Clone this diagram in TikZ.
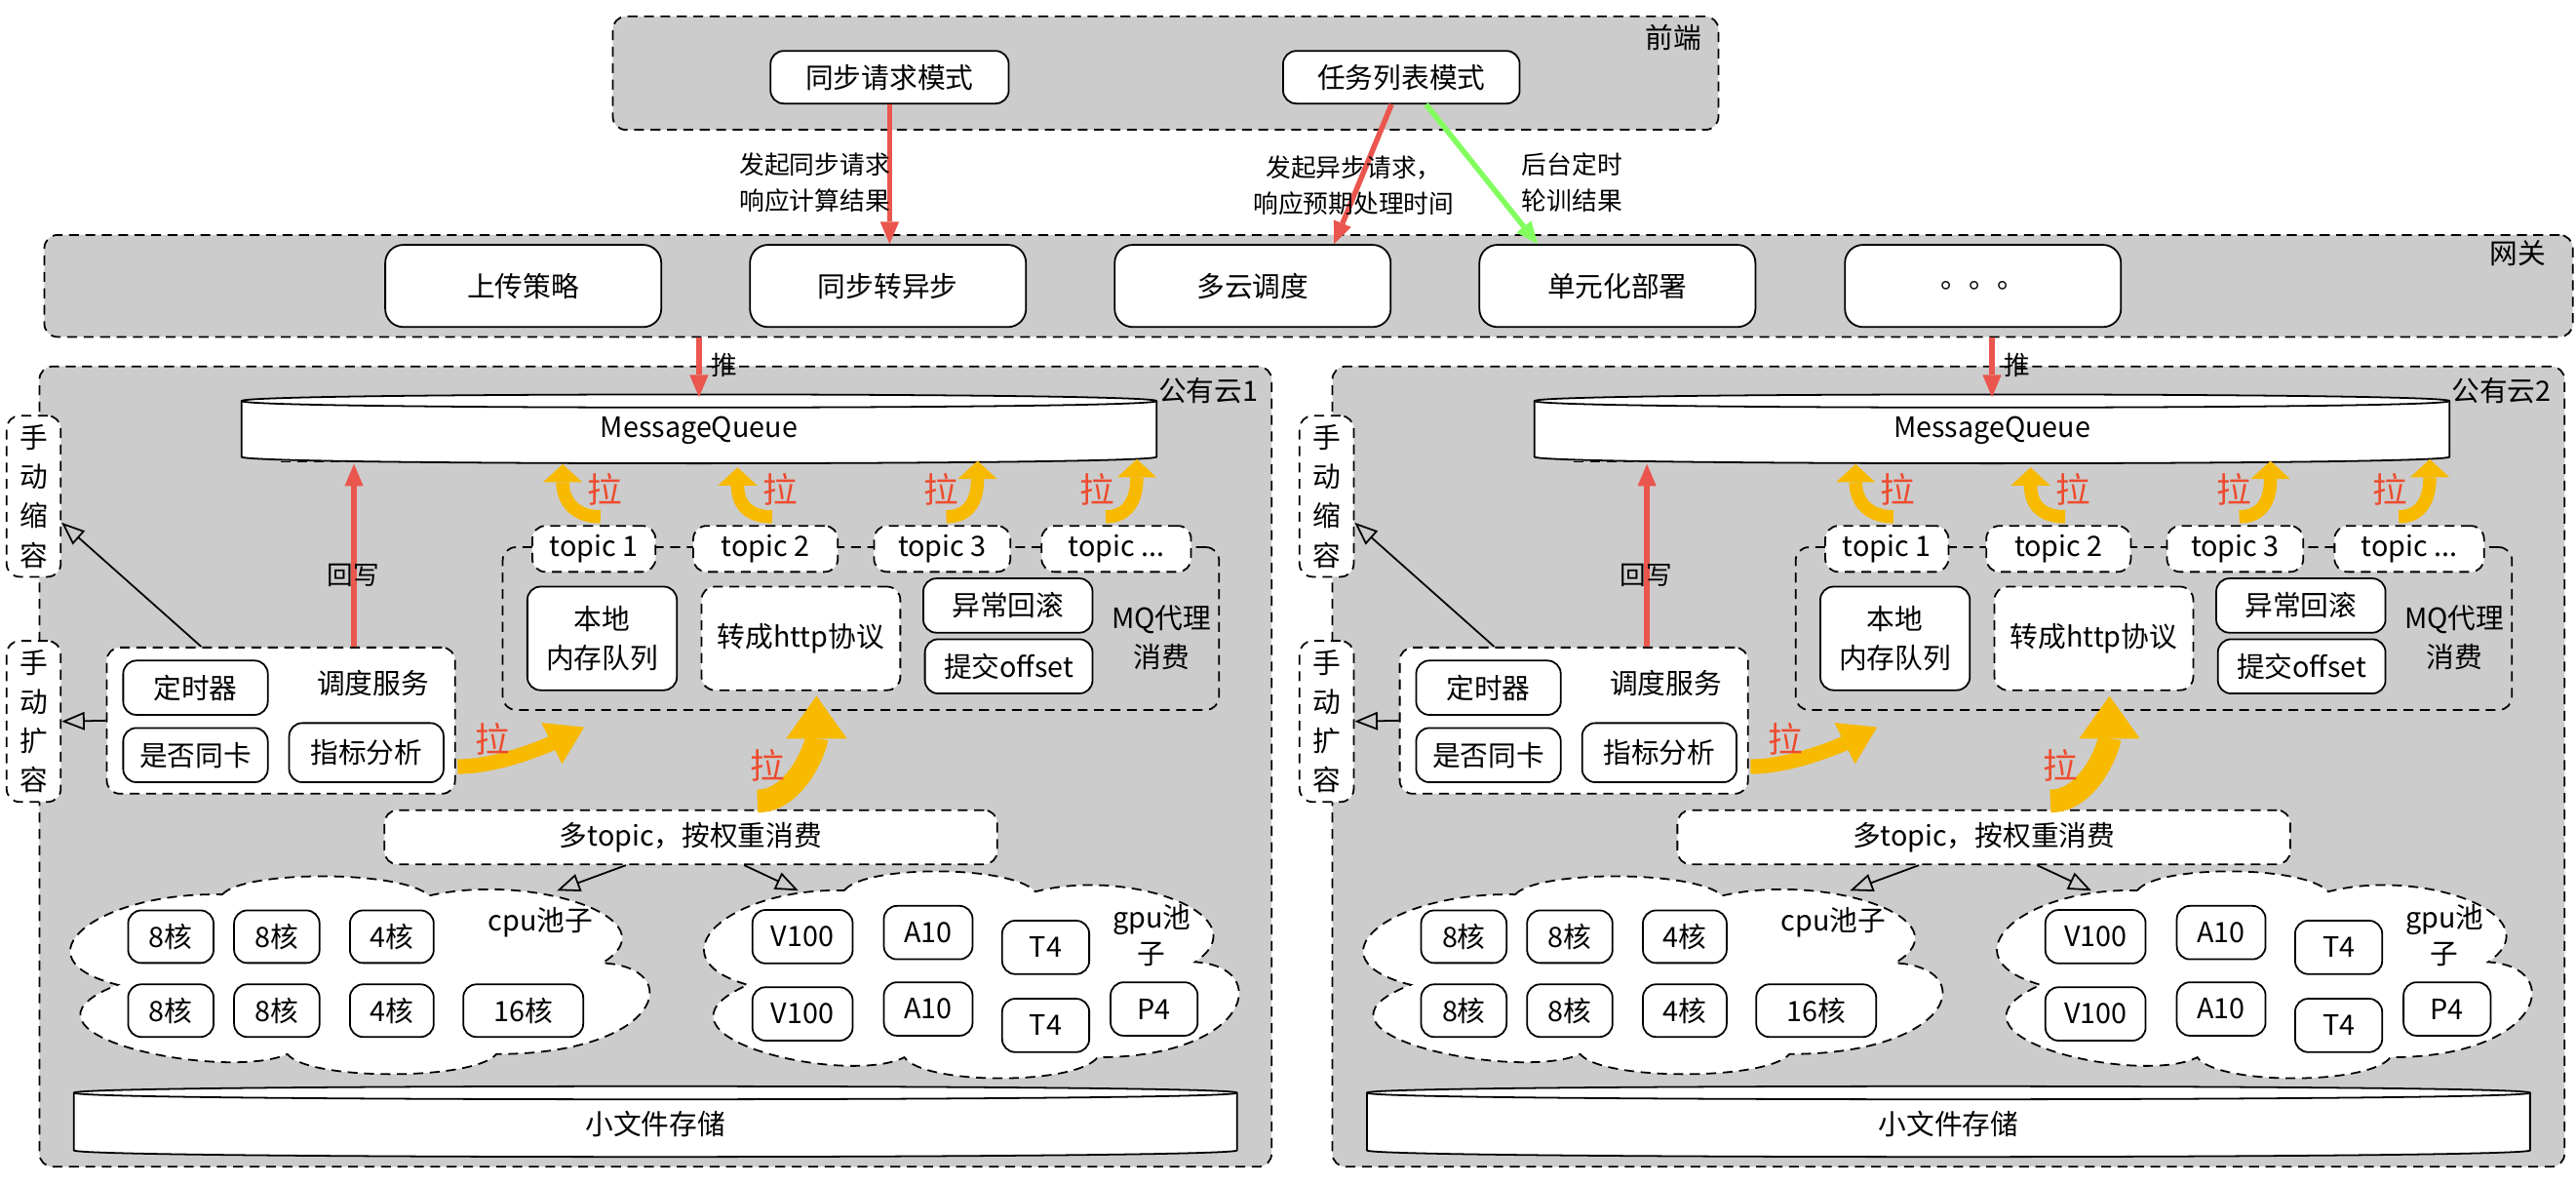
\documentclass[tikz,border=0pt]{standalone}
\usepackage{fontspec}
\setmainfont{Noto Sans CJK SC}
\usetikzlibrary{arrows.meta,positioning,calc}

\definecolor{panel}{HTML}{CCCCCC}
\definecolor{pushred}{HTML}{EA564D}
\definecolor{pullred}{HTML}{EE4B2E}
\definecolor{pullyel}{HTML}{F7BA00}
\definecolor{pollgreen}{HTML}{82FF5E}

\tikzset{
  zone/.style={draw, fill=panel, dash pattern=on 1.2mm off 0.8mm, rounded corners=1.6mm, line width=0.6pt, inner sep=0pt},
  unit/.style={draw, fill=white, rounded corners=1.6mm, line width=0.6pt, align=center, inner sep=0pt},
  dunit/.style={unit, dash pattern=on 1.2mm off 0.8mm},
  sz/.style 2 args={minimum width=#1mm, minimum height=#2mm},
  drum/.style={draw, fill=white, line width=0.6pt},
  pool/.style={draw, fill=white, dash pattern=on 1.2mm off 0.8mm, line width=0.6pt},
  push/.style={draw=pushred, line width=0.65mm, -{Triangle[length=2.7mm, width=2.3mm, line width=0pt]}},
  poll/.style={draw=pollgreen, line width=0.65mm, -{Triangle[length=2.7mm, width=2.3mm, line width=0pt]}},
  hollow/.style={line width=0.6pt, -{Triangle[open, length=2.8mm, width=2.2mm]}},
  pull/.style={draw=pullyel, line width=1.6mm, -{Triangle[length=2.2mm, width=4.8mm, line width=0pt]}},
  midpull/.style={draw=pullyel, line width=1.8mm, -{Triangle[length=4.4mm, width=5.6mm, line width=0pt]}},
  bigpull/.style={draw=pullyel, line width=2.8mm, -{Triangle[length=5.2mm, width=7.4mm, line width=0pt]}},
  pulltxt/.style={text=pullred, font=\fontsize{12}{12}\selectfont},
  note/.style={align=center, font=\fontsize{8.7}{12.5}\selectfont},
  puffy/.pic={
    \path[pool] (0.274,0.094) .. controls (0.31,-0.03) and (0.58,-0.03) .. (0.624,0.10)
      .. controls (0.80,-0.02) and (1.04,0.22) .. (0.917,0.44)
      .. controls (1.06,0.46) and (1.02,0.90) .. (0.738,0.90)
      .. controls (0.70,1.035) and (0.42,1.035) .. (0.384,0.90)
      .. controls (0.28,1.04) and (-0.12,0.80) .. (0.097,0.55)
      .. controls (-0.08,0.42) and (0.06,0.08) .. (0.274,0.094) -- cycle;
  }
}

\begin{document}
\begin{tikzpicture}[x=0.2mm, y=-0.2mm, font=\fontsize{9.7}{13.6}\selectfont]
\useasboundingbox (0,0) rectangle (1568,720);

% front end
\node[zone, sz={134.6}{13.8}] (fe) at (709.5,44.5) {};
\node[anchor=east] at (1042,23) {前端};
\node[unit, sz={29}{6.4}] (sync) at (541.5,47) {同步请求模式};
\node[unit, sz={28.8}{6.4}] (task) at (853,47) {任务列表模式};

% gateway
\node[zone, sz={307.8}{12.4}] (gw) at (796.5,174) {};
\node[anchor=east] at (1556,154) {网关};
\foreach \i/\x/\txt in {1/318.5/上传策略, 2/540.5/同步转异步, 3/762.5/多云调度, 4/984.5/单元化部署, 5/1207/。。。}
  \node[unit, rounded corners=2.2mm, sz={33.6}{10}] (gb\i) at (\x,174) {\txt};

\draw[push] (sync.south) -- (sync.south |- gb2.north);
\draw[push] ([xshift=-1.2mm]task.south) -- ([xshift=9.9mm]gb3.north);
\draw[poll] ([xshift=3mm]task.south) -- ([xshift=-9.7mm]gb4.north);
\node[note] at (496,111) {发起同步请求\\响应计算结果};
\node[note] at (824,113) {发起异步请求，\\响应预期处理时间};
\node[note] at (957,111) {后台定时\\轮训结果};

% two public clouds
\foreach \k/\dx in {1/0mm, 2/157.4mm}{
\begin{scope}[xshift=\dx]
  \node[zone, sz={150}{97.4}] (pc\k) at (399,466.5) {};
  \node[anchor=east] at (772,238) {公有云\k};

  % message queue
  \draw[drum] (147,244) .. controls (147,238.7) and (704,238.7) .. (704,244) -- (704,278)
    .. controls (704,283.3) and (147,283.3) .. (147,278) -- cycle;
  \draw[line width=0.6pt] (147,244) .. controls (147,249.3) and (704,249.3) .. (704,244);
  \draw[line width=0.6pt, dash pattern=on 1.2mm off 0.8mm] (171,281) -- (263,281);
  \node[sz={111.4}{8}] (mq\k) at (425.5,262) {MessageQueue};
  \draw[push] (mq\k.north |- gw.south) -- (mq\k.north);
  \node[font=\fontsize{9}{9}\selectfont] at (441,222) {推};

  % MQ proxy
  \node[dunit, fill=none, sz={87.2}{19.8}] (mqp\k) at (524,382.5) {};
  \node[align=center] at (707,388) {MQ代理\\消费};
  \node[dunit, sz={15}{5.6}] (t1\k) at (361.5,334) {topic 1};
  \node[dunit, sz={17.6}{5.6}] (t2\k) at (466,334) {topic 2};
  \node[dunit, sz={16.6}{5.6}] (t3\k) at (573.5,334) {topic 3};
  \node[dunit, sz={18.2}{5.6}] (t4\k) at (679.5,334) {topic ...};
  \node[unit, sz={18.2}{12.6}] (loc\k) at (366.5,388.5) {本地\\内存队列};
  \node[dunit, sz={24.2}{12.6}] (http\k) at (487.5,388.5) {转成http协议};
  \node[unit, sz={20.6}{6.6}] (rb\k) at (613.5,368.5) {异常回滚};
  \node[unit, sz={20.4}{6.6}] (off\k) at (614,405.5) {提交offset};

  \draw[pull] ([shift={(4,-5)}]t1\k.north) .. controls +(-16,0) and +(0,22) .. ++(-23,-32);
  \draw[pull] ([shift={(4,-5)}]t2\k.north) .. controls +(-15,0) and +(0,22) .. ++(-21,-30);
  \draw[pull] ([shift={(2.5,-5)}]t3\k.north) .. controls +(14,0) and +(0,24) .. ++(19,-34);
  \draw[pull] ([shift={(-6.5,-5)}]t4\k.north) .. controls +(14,0) and +(0,24) .. ++(19,-35);
  \foreach \lx in {368,475,573,668}
    \node[pulltxt] at (\lx,298) {拉};

  % scheduler
  \node[dunit, sz={42.4}{17.8}] (sch\k) at (171,438.5) {};
  \node at (227,416) {调度服务};
  \node[unit, sz={17.6}{6.6}] (tmr\k) at (119,418.5) {定时器};
  \node[unit, sz={17.6}{6.6}] (card\k) at (119,459.5) {是否同卡};
  \node[unit, sz={18.8}{7.2}] (met\k) at (223,458) {指标分析};

  \node[dunit, sz={6.6}{19.6}] (shr\k) at (20.5,302) {手\\动\\缩\\容};
  \node[dunit, sz={6.6}{19.6}] (exp\k) at (20.5,439) {手\\动\\扩\\容};
  \draw[hollow] ([xshift=11.6mm]sch\k.north west) -- ([yshift=-3.2mm]shr\k.east);
  \draw[hollow] (sch\k.west) -- (exp\k.east);

  \path ([xshift=30.2mm]sch\k.north west) coordinate (wb\k);
  \draw[push] (wb\k) -- (wb\k |- mq\k.south);
  \node[font=\fontsize{9}{9}\selectfont] at (215,350) {回写};

  \draw[midpull] ([shift={(1,28)}]sch\k.east) .. controls +(28,0) and +(-16,8) .. ++(77,-24);
  \node[pulltxt] at (300,450) {拉};

  % weighted consumer
  \node[dunit, sz={74.6}{6.6}] (mt\k) at (420.5,509.5) {多topic，按权重消费};
  \draw[bigpull] ([shift={(40.5,-5)}]mt\k.north) .. controls +(24,0) and +(0,30) .. ++(36,-64);
  \node[pulltxt] at (467,466) {拉};

  % pools
  \pic[xscale=359.6, yscale=120.5] at (36.8,533) {puffy};
  \pic[xscale=332, yscale=126] at (423,530) {puffy};
  \foreach \n/\x/\y/\w/\txt in {a/104/570/10.4/8核, b/168.5/570/10.4/8核, c/238.5/570/10.2/4核,
      d/104/615/10.4/8核, e/168.5/615/10.4/8核, f/238.5/615/10.2/4核, g/318.5/615/14.6/16核}
    \node[unit, sz={\w}{6.4}] (cpu\n\k) at (\x,\y) {\txt};
  \foreach \n/\x/\y/\w/\txt in {a/488.5/570/12.2/V100, b/488.5/617/12.2/V100, c/565/567.5/10.8/A10,
      d/565/614/10.8/A10, e/636.5/576.5/10.6/T4, f/636.5/624/10.6/T4, g/702.5/614/10.6/P4}
    \node[unit, sz={\w}{6.5}] (gpu\n\k) at (\x,\y) {\txt};
  \node at (329,561) {cpu池子};
  \node[align=center, font=\fontsize{9.7}{12.5}\selectfont] at (701,569) {gpu池\\子};

  \coordinate (cpuin\k) at (339,542);
  \coordinate (gpuin\k) at (486,542);
  \draw[hollow] ([xshift=-7.9mm]mt\k.south) -- (cpuin\k);
  \draw[hollow] ([xshift=6.5mm]mt\k.south) -- (gpuin\k);

  % small file storage
  \draw[drum] (45,665) .. controls (45,659.7) and (753,659.7) .. (753,665) -- (753,700)
    .. controls (753,705.3) and (45,705.3) .. (45,700) -- cycle;
  \draw[line width=0.6pt] (45,665) .. controls (45,670.3) and (753,670.3) .. (753,665);
  \node[sz={141.6}{8.6}] (st\k) at (399,684) {小文件存储};
\end{scope}
}
\end{tikzpicture}
\end{document}
